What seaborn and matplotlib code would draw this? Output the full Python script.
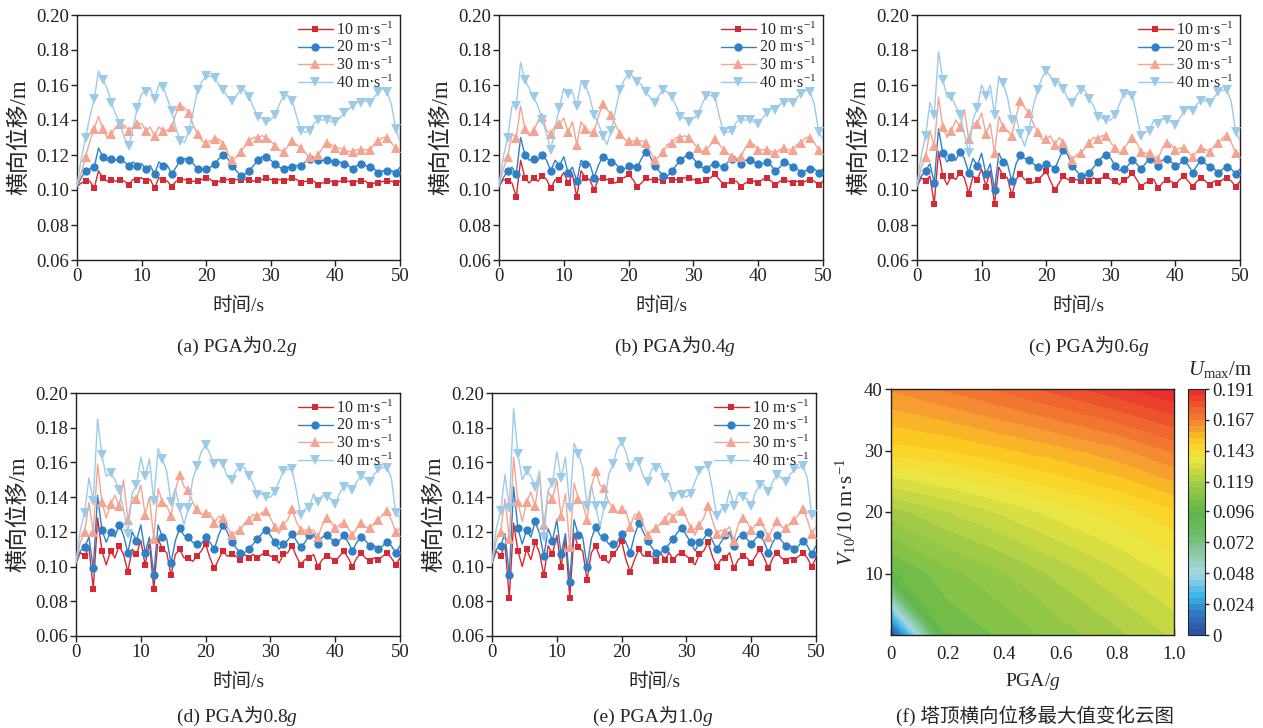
import numpy as np
import matplotlib
matplotlib.use("Agg")
import matplotlib.pyplot as plt
import seaborn as sns
from matplotlib.colors import LinearSegmentedColormap
from matplotlib.lines import Line2D
from matplotlib.text import Annotation

# ---------------- data ----------------
t = np.linspace(0, 50, 76)  # time / s

A_10 = [0.102,0.104,0.105,0.105,0.101,0.111,0.107,0.105,0.106,0.105,
        0.106,0.105,0.103,0.106,0.106,0.107,0.105,0.106,0.101,0.107,
        0.106,0.105,0.102,0.105,0.106,0.106,0.105,0.105,0.105,0.106,
        0.107,0.106,0.104,0.105,0.106,0.106,0.105,0.106,0.106,0.106,
        0.106,0.105,0.106,0.106,0.107,0.106,0.105,0.106,0.105,0.106,
        0.107,0.106,0.104,0.105,0.105,0.105,0.103,0.104,0.105,0.105,
        0.104,0.105,0.106,0.105,0.104,0.105,0.105,0.105,0.103,0.104,
        0.104,0.105,0.105,0.105,0.104,0.105]
A_20 = [0.102,0.107,0.111,0.112,0.113,0.124,0.119,0.117,0.118,0.117,
        0.118,0.116,0.114,0.116,0.114,0.115,0.112,0.114,0.109,0.116,
        0.114,0.114,0.109,0.113,0.117,0.118,0.117,0.115,0.112,0.112,
        0.112,0.113,0.115,0.118,0.120,0.118,0.114,0.111,0.108,0.109,
        0.111,0.114,0.117,0.119,0.119,0.117,0.115,0.113,0.112,0.113,
        0.113,0.114,0.114,0.116,0.118,0.118,0.117,0.117,0.117,0.117,
        0.116,0.116,0.115,0.114,0.112,0.114,0.115,0.114,0.113,0.112,
        0.110,0.111,0.111,0.111,0.110,0.113]
A_30 = [0.102,0.110,0.119,0.128,0.135,0.142,0.135,0.130,0.132,0.136,
        0.138,0.137,0.134,0.136,0.138,0.138,0.134,0.136,0.131,0.136,
        0.134,0.134,0.136,0.144,0.148,0.147,0.144,0.137,0.132,0.128,
        0.127,0.128,0.129,0.129,0.126,0.121,0.117,0.119,0.122,0.125,
        0.128,0.130,0.130,0.131,0.130,0.128,0.125,0.123,0.122,0.125,
        0.128,0.126,0.124,0.121,0.119,0.118,0.120,0.124,0.127,0.126,
        0.124,0.124,0.123,0.122,0.122,0.123,0.123,0.123,0.123,0.126,
        0.128,0.130,0.130,0.127,0.124,0.121]
A_40 = [0.103,0.118,0.130,0.142,0.152,0.168,0.163,0.158,0.150,0.143,
        0.138,0.130,0.125,0.135,0.147,0.155,0.156,0.158,0.152,0.160,
        0.159,0.152,0.145,0.135,0.128,0.127,0.134,0.145,0.157,0.162,
        0.165,0.165,0.164,0.160,0.157,0.153,0.151,0.154,0.157,0.157,
        0.153,0.147,0.142,0.141,0.139,0.140,0.143,0.149,0.154,0.154,
        0.151,0.142,0.134,0.133,0.134,0.138,0.140,0.140,0.140,0.139,
        0.139,0.141,0.144,0.146,0.148,0.150,0.150,0.151,0.150,0.153,
        0.156,0.158,0.156,0.149,0.135,0.128]

B_10 = [0.102,0.106,0.105,0.104,0.096,0.117,0.107,0.104,0.107,0.105,
        0.108,0.106,0.101,0.106,0.106,0.110,0.104,0.109,0.096,0.111,
        0.107,0.106,0.100,0.106,0.107,0.106,0.105,0.104,0.106,0.107,
        0.109,0.106,0.102,0.104,0.107,0.106,0.106,0.106,0.105,0.107,
        0.106,0.106,0.106,0.107,0.107,0.106,0.105,0.104,0.106,0.107,
        0.109,0.106,0.103,0.104,0.105,0.105,0.102,0.104,0.105,0.105,
        0.104,0.106,0.107,0.105,0.103,0.105,0.106,0.105,0.104,0.105,
        0.104,0.105,0.106,0.105,0.103,0.105]
B_20 = [0.102,0.107,0.111,0.113,0.109,0.130,0.120,0.117,0.118,0.117,
        0.120,0.117,0.111,0.117,0.114,0.119,0.110,0.113,0.105,0.117,
        0.115,0.115,0.107,0.114,0.119,0.118,0.116,0.115,0.112,0.112,
        0.114,0.114,0.113,0.118,0.122,0.119,0.114,0.111,0.108,0.108,
        0.111,0.114,0.117,0.119,0.120,0.118,0.115,0.113,0.112,0.114,
        0.115,0.114,0.113,0.116,0.118,0.117,0.115,0.117,0.117,0.116,
        0.115,0.115,0.116,0.114,0.111,0.113,0.116,0.115,0.113,0.112,
        0.110,0.111,0.112,0.112,0.110,0.112]
B_30 = [0.102,0.112,0.119,0.132,0.130,0.148,0.135,0.131,0.134,0.139,
        0.142,0.134,0.132,0.137,0.138,0.141,0.133,0.139,0.126,0.139,
        0.135,0.133,0.133,0.142,0.149,0.146,0.143,0.137,0.132,0.129,
        0.128,0.128,0.128,0.128,0.127,0.122,0.117,0.119,0.122,0.126,
        0.127,0.130,0.130,0.131,0.130,0.127,0.124,0.122,0.123,0.126,
        0.129,0.126,0.123,0.121,0.119,0.118,0.119,0.124,0.127,0.126,
        0.123,0.123,0.123,0.122,0.121,0.123,0.124,0.123,0.123,0.126,
        0.127,0.130,0.130,0.127,0.123,0.121]
B_40 = [0.103,0.119,0.130,0.148,0.148,0.173,0.163,0.158,0.153,0.148,
        0.140,0.132,0.123,0.136,0.147,0.158,0.155,0.156,0.148,0.162,
        0.160,0.153,0.143,0.138,0.131,0.126,0.134,0.146,0.157,0.163,
        0.166,0.165,0.162,0.160,0.156,0.153,0.150,0.154,0.157,0.156,
        0.153,0.148,0.142,0.141,0.139,0.141,0.143,0.149,0.154,0.154,
        0.153,0.142,0.133,0.133,0.134,0.139,0.140,0.140,0.140,0.139,
        0.138,0.141,0.144,0.147,0.146,0.149,0.150,0.151,0.150,0.153,
        0.155,0.157,0.156,0.149,0.133,0.129]

C_10 = [0.102,0.107,0.105,0.108,0.092,0.122,0.108,0.103,0.108,0.106,
        0.110,0.107,0.098,0.108,0.106,0.112,0.102,0.111,0.092,0.113,
        0.108,0.107,0.097,0.106,0.109,0.106,0.105,0.104,0.106,0.108,
        0.111,0.105,0.100,0.104,0.108,0.106,0.106,0.106,0.105,0.107,
        0.105,0.107,0.105,0.107,0.108,0.106,0.105,0.103,0.106,0.107,
        0.110,0.106,0.102,0.104,0.105,0.106,0.101,0.104,0.106,0.105,
        0.103,0.106,0.108,0.105,0.102,0.105,0.107,0.105,0.103,0.105,
        0.104,0.106,0.107,0.105,0.102,0.105]
C_20 = [0.102,0.108,0.111,0.115,0.104,0.135,0.121,0.116,0.119,0.117,
        0.122,0.118,0.110,0.118,0.114,0.121,0.109,0.115,0.100,0.121,
        0.116,0.115,0.105,0.115,0.120,0.118,0.117,0.115,0.113,0.113,
        0.115,0.114,0.112,0.118,0.123,0.120,0.114,0.111,0.108,0.108,
        0.110,0.113,0.116,0.119,0.120,0.118,0.114,0.111,0.112,0.114,
        0.117,0.115,0.112,0.115,0.118,0.117,0.114,0.117,0.118,0.116,
        0.114,0.115,0.117,0.114,0.110,0.114,0.117,0.115,0.113,0.112,
        0.110,0.112,0.113,0.112,0.109,0.112]
C_30 = [0.102,0.113,0.119,0.134,0.125,0.153,0.136,0.130,0.134,0.140,
        0.136,0.146,0.129,0.138,0.138,0.144,0.132,0.138,0.121,0.142,
        0.136,0.134,0.131,0.142,0.151,0.147,0.144,0.138,0.133,0.129,
        0.129,0.131,0.126,0.130,0.127,0.122,0.117,0.120,0.121,0.124,
        0.127,0.130,0.129,0.131,0.131,0.127,0.124,0.121,0.123,0.127,
        0.130,0.127,0.122,0.121,0.121,0.119,0.118,0.124,0.127,0.126,
        0.123,0.124,0.124,0.122,0.119,0.122,0.124,0.123,0.122,0.125,
        0.127,0.130,0.131,0.127,0.121,0.121]
C_40 = [0.103,0.120,0.131,0.150,0.143,0.179,0.163,0.153,0.153,0.148,
        0.143,0.132,0.121,0.140,0.147,0.160,0.154,0.160,0.143,0.165,
        0.161,0.153,0.140,0.142,0.132,0.125,0.134,0.148,0.157,0.164,
        0.168,0.165,0.161,0.162,0.158,0.152,0.150,0.154,0.157,0.157,
        0.152,0.148,0.142,0.141,0.140,0.140,0.143,0.149,0.155,0.155,
        0.154,0.143,0.131,0.133,0.134,0.140,0.138,0.141,0.140,0.139,
        0.137,0.141,0.145,0.147,0.145,0.149,0.151,0.151,0.150,0.153,
        0.156,0.157,0.157,0.150,0.133,0.128]

D_10 = [0.102,0.108,0.106,0.111,0.087,0.128,0.109,0.101,0.109,0.105,
        0.112,0.107,0.097,0.110,0.107,0.115,0.101,0.114,0.087,0.116,
        0.110,0.108,0.095,0.107,0.110,0.105,0.105,0.103,0.106,0.109,
        0.113,0.105,0.099,0.104,0.109,0.106,0.107,0.106,0.104,0.107,
        0.105,0.107,0.105,0.107,0.108,0.106,0.105,0.102,0.107,0.108,
        0.112,0.106,0.101,0.104,0.105,0.107,0.100,0.104,0.106,0.105,
        0.103,0.106,0.109,0.105,0.100,0.105,0.108,0.105,0.103,0.105,
        0.104,0.106,0.108,0.105,0.101,0.105]
D_20 = [0.102,0.109,0.111,0.117,0.099,0.141,0.121,0.114,0.120,0.117,
        0.124,0.118,0.108,0.120,0.115,0.124,0.108,0.117,0.095,0.124,
        0.117,0.116,0.102,0.115,0.122,0.118,0.117,0.114,0.113,0.113,
        0.117,0.114,0.110,0.118,0.124,0.120,0.114,0.111,0.108,0.108,
        0.110,0.113,0.116,0.119,0.121,0.118,0.114,0.110,0.113,0.115,
        0.119,0.115,0.111,0.114,0.118,0.119,0.113,0.117,0.118,0.116,
        0.114,0.115,0.118,0.114,0.109,0.114,0.117,0.115,0.112,0.112,
        0.110,0.112,0.114,0.112,0.108,0.112]
D_30 = [0.102,0.114,0.120,0.137,0.120,0.159,0.137,0.128,0.136,0.141,
        0.135,0.150,0.127,0.140,0.139,0.147,0.130,0.140,0.116,0.145,
        0.137,0.135,0.129,0.144,0.153,0.146,0.144,0.137,0.133,0.130,
        0.131,0.131,0.125,0.129,0.128,0.123,0.118,0.120,0.121,0.125,
        0.127,0.130,0.129,0.131,0.132,0.128,0.123,0.119,0.124,0.127,
        0.133,0.126,0.121,0.121,0.121,0.121,0.117,0.124,0.128,0.126,
        0.122,0.124,0.125,0.122,0.118,0.122,0.125,0.123,0.122,0.125,
        0.127,0.130,0.132,0.127,0.120,0.122]
D_40 = [0.103,0.121,0.131,0.151,0.138,0.185,0.164,0.152,0.154,0.150,
        0.144,0.133,0.119,0.142,0.147,0.163,0.152,0.162,0.138,0.168,
        0.162,0.155,0.137,0.145,0.134,0.124,0.134,0.150,0.158,0.166,
        0.170,0.165,0.159,0.162,0.159,0.152,0.150,0.155,0.157,0.157,
        0.152,0.148,0.141,0.142,0.140,0.140,0.143,0.149,0.155,0.156,
        0.156,0.144,0.130,0.133,0.134,0.142,0.137,0.141,0.140,0.139,
        0.136,0.142,0.146,0.147,0.144,0.149,0.152,0.151,0.149,0.153,
        0.156,0.157,0.157,0.151,0.131,0.128]

E_10 = [0.102,0.109,0.106,0.113,0.082,0.125,0.109,0.100,0.110,0.104,
        0.114,0.108,0.095,0.112,0.107,0.118,0.100,0.116,0.082,0.119,
        0.111,0.109,0.092,0.108,0.112,0.105,0.105,0.102,0.107,0.110,
        0.115,0.104,0.097,0.104,0.110,0.106,0.107,0.106,0.103,0.108,
        0.104,0.108,0.104,0.107,0.108,0.106,0.104,0.101,0.107,0.109,
        0.114,0.106,0.100,0.104,0.105,0.108,0.099,0.104,0.106,0.105,
        0.102,0.106,0.110,0.105,0.099,0.105,0.108,0.105,0.103,0.105,
        0.104,0.106,0.108,0.105,0.100,0.105]
E_20 = [0.102,0.110,0.112,0.119,0.095,0.146,0.122,0.113,0.121,0.117,
        0.126,0.119,0.106,0.122,0.115,0.127,0.107,0.119,0.091,0.127,
        0.118,0.117,0.100,0.116,0.123,0.118,0.117,0.113,0.113,0.114,
        0.119,0.114,0.108,0.118,0.125,0.120,0.115,0.111,0.108,0.108,
        0.110,0.113,0.116,0.120,0.122,0.118,0.114,0.109,0.114,0.116,
        0.120,0.115,0.110,0.114,0.118,0.120,0.112,0.117,0.118,0.116,
        0.113,0.116,0.119,0.114,0.108,0.114,0.118,0.115,0.112,0.112,
        0.110,0.112,0.115,0.112,0.107,0.112]
E_30 = [0.102,0.115,0.120,0.139,0.116,0.163,0.137,0.126,0.137,0.143,
        0.135,0.153,0.124,0.143,0.139,0.150,0.129,0.142,0.111,0.148,
        0.139,0.136,0.127,0.146,0.155,0.147,0.145,0.137,0.134,0.131,
        0.133,0.132,0.123,0.130,0.130,0.124,0.118,0.121,0.122,0.125,
        0.127,0.131,0.128,0.132,0.132,0.128,0.122,0.118,0.124,0.128,
        0.135,0.127,0.119,0.121,0.120,0.123,0.115,0.124,0.128,0.126,
        0.121,0.124,0.126,0.122,0.117,0.122,0.126,0.123,0.122,0.125,
        0.127,0.130,0.133,0.127,0.119,0.123]
E_40 = [0.103,0.122,0.132,0.153,0.134,0.191,0.165,0.150,0.155,0.152,
        0.146,0.155,0.117,0.144,0.148,0.166,0.151,0.163,0.134,0.171,
        0.165,0.157,0.135,0.147,0.135,0.123,0.135,0.153,0.159,0.168,
        0.172,0.166,0.157,0.162,0.160,0.152,0.149,0.156,0.157,0.158,
        0.151,0.149,0.140,0.143,0.141,0.140,0.142,0.149,0.155,0.157,
        0.158,0.145,0.129,0.133,0.133,0.144,0.135,0.142,0.140,0.139,
        0.135,0.143,0.147,0.147,0.143,0.149,0.153,0.151,0.149,0.153,
        0.156,0.157,0.158,0.151,0.130,0.129]

series_labels = ["10 m·s$^{-1}$", "20 m·s$^{-1}$", "30 m·s$^{-1}$", "40 m·s$^{-1}$"]
captions = ["(a) PGA为0.2", "(b) PGA为0.4", "(c) PGA为0.6",
            "(d) PGA为0.8", "(e) PGA为1.0", "(f) 塔顶横向位移最大值变化云图"]
caption_italic = ["g", "g", "g", "g", "g", ""]
y_ticks = [0.06, 0.08, 0.10, 0.12, 0.14, 0.16, 0.18, 0.20]
x_ticks = [0, 10, 20, 30, 40, 50]

# contour data: PGA (columns) x V10 (rows)
pga = [0.0, 0.2, 0.4, 0.6, 0.8, 1.0]
v10 = [0, 10, 20, 30, 40]
U_max = [[0.000, 0.101, 0.106, 0.112, 0.118, 0.125],
         [0.099, 0.108, 0.114, 0.121, 0.128, 0.135],
         [0.117, 0.124, 0.130, 0.136, 0.141, 0.147],
         [0.146, 0.148, 0.152, 0.156, 0.161, 0.168],
         [0.163, 0.168, 0.173, 0.179, 0.185, 0.191]]
cbar_ticks = [0, 0.024, 0.048, 0.072, 0.096, 0.119, 0.143, 0.167, 0.191]
cbar_labels = ["0", "0.024", "0.048", "0.072", "0.096", "0.119", "0.143", "0.167", "0.191"]

# ---------------- style ----------------
sns.set_theme(style="ticks")
plt.rcParams['font.family'] = ['Liberation Serif', 'Noto Sans CJK SC']
plt.rcParams['mathtext.fontset'] = 'custom'
plt.rcParams['mathtext.rm'] = 'Liberation Serif'
plt.rcParams['mathtext.it'] = 'Liberation Serif:italic'
plt.rcParams['mathtext.bf'] = 'Liberation Serif:bold'
plt.rcParams['axes.unicode_minus'] = False

colors = ['#d42a35', '#2f80c4', '#f4a490', '#9ccbe8']
markers = ['s', 'o', '^', 'v']
msizes = [5.0, 6.0, 6.5, 6.5]

W, H = 1263, 728
fig = plt.figure(figsize=(W / 100, H / 100), dpi=100)

def box(l, t_, r, b):
    return [l / W, 1 - b / H, (r - l) / W, (b - t_) / H]

panels = [
    ([A_10, A_20, A_30, A_40], box(77, 15, 400, 260)),
    ([B_10, B_20, B_30, B_40], box(499, 15, 823, 260)),
    ([C_10, C_20, C_30, C_40], box(917, 15, 1240, 260)),
    ([D_10, D_20, D_30, D_40], box(76, 393, 400, 636)),
    ([E_10, E_20, E_30, E_40], box(492, 393, 816, 636)),
]

for data, pos in panels:
    ax = fig.add_axes(pos)
    for k, ys in enumerate(data):
        sns.lineplot(x=t, y=ys, ax=ax, color=colors[k], lw=1.0, marker=markers[k],
                     markersize=msizes[k], markeredgewidth=0, markevery=slice(2, None, 2),
                     zorder=2 + k, estimator=None, sort=False)
    ax.set_xlim(0, 50)
    ax.set_ylim(0.06, 0.20)
    ax.set_xticks(x_ticks)
    ax.set_yticks(y_ticks)
    ax.set_yticklabels([f"{v:.2f}" for v in y_ticks])
    ax.tick_params(direction='out', length=4, width=1, labelsize=13.5, colors='#222222', pad=2)
    for s in ax.spines.values():
        s.set_visible(True)
        s.set_color('#222222')
        s.set_linewidth(1.0)
    ax.set_xlabel("时间/s", fontsize=14, labelpad=8)
    ax.set_ylabel("横向位移/m", fontsize=16.5, labelpad=4)
    handles = [Line2D([], [], color=colors[k], marker=markers[k], markersize=msizes[k],
                      markeredgewidth=0, lw=1.0) for k in range(4)]
    ax.legend(handles, series_labels, loc='upper right', frameon=False, fontsize=11.5,
              handlelength=2.2, handletextpad=0.2, labelspacing=0.02,
              borderaxespad=0.2, borderpad=0.2)

# contour panel
axf = fig.add_axes(box(891, 389, 1174, 635))
cax = fig.add_axes(box(1188, 389, 1205, 635))
cmap = LinearSegmentedColormap.from_list("umax", [
    (0.00, '#2b4c9c'), (0.08, '#2f74c0'), (0.16, '#3cb6e8'), (0.25, '#a6d9e3'),
    (0.33, '#8cc9a8'), (0.42, '#6cbb62'), (0.50, '#5db54a'), (0.62, '#a6cd46'),
    (0.72, '#eee742'), (0.78, '#fdd020'), (0.86, '#f48d34'), (0.93, '#ee5a2e'),
    (1.00, '#e8252b')])
levels = np.linspace(0, 0.191, 41)
cs = axf.contourf(pga, v10, U_max, levels=levels, cmap=cmap, vmin=0, vmax=0.191)
axf.set_xlim(0, 1.0)
axf.set_ylim(0, 40)
axf.set_xticks([0, 0.2, 0.4, 0.6, 0.8, 1.0])
axf.set_xticklabels(["0", "0.2", "0.4", "0.6", "0.8", "1.0"])
axf.set_yticks([10, 20, 30, 40])
axf.tick_params(axis='x', direction='in', length=4, width=1, labelsize=13.5, colors='#222222', pad=8)
axf.tick_params(axis='y', direction='out', length=4, width=1, labelsize=13.5, colors='#222222', pad=2)
for s in axf.spines.values():
    s.set_visible(True)
    s.set_color('#222222')
    s.set_linewidth(1.0)
axf.set_xlabel("PGA/$g$", fontsize=14, labelpad=6)
axf.set_ylabel("$V_{10}$/10 m·s$^{-1}$", fontsize=15, labelpad=4)

cb = fig.colorbar(cs, cax=cax, ticks=cbar_ticks)
cb.ax.set_yticklabels(cbar_labels)
cb.ax.tick_params(direction='out', length=3, width=1, labelsize=13.5, colors='#222222', pad=2)
cb.outline.set_linewidth(0.8)
fig.text(1220 / W, 1 - 370 / H, "$U_{\\mathrm{max}}$/m", ha='center', va='center', fontsize=15)

# captions
cap_pos = [(232, 346), (670, 346), (1084, 346), (232, 716), (648, 716), (1035, 716)]
for (cx, cy), txt, it in zip(cap_pos, captions, caption_italic):
    main = fig.text(cx / W, 1 - cy / H, txt, ha='center', va='center', fontsize=14)
    if it:
        fig.add_artist(Annotation(it, xy=(1.0, 0.0), xycoords=main, ha='left', va='bottom',
                                  fontsize=14, fontstyle='italic',
                                  family=['Liberation Serif']))

fig.savefig("out.png", dpi=100)
